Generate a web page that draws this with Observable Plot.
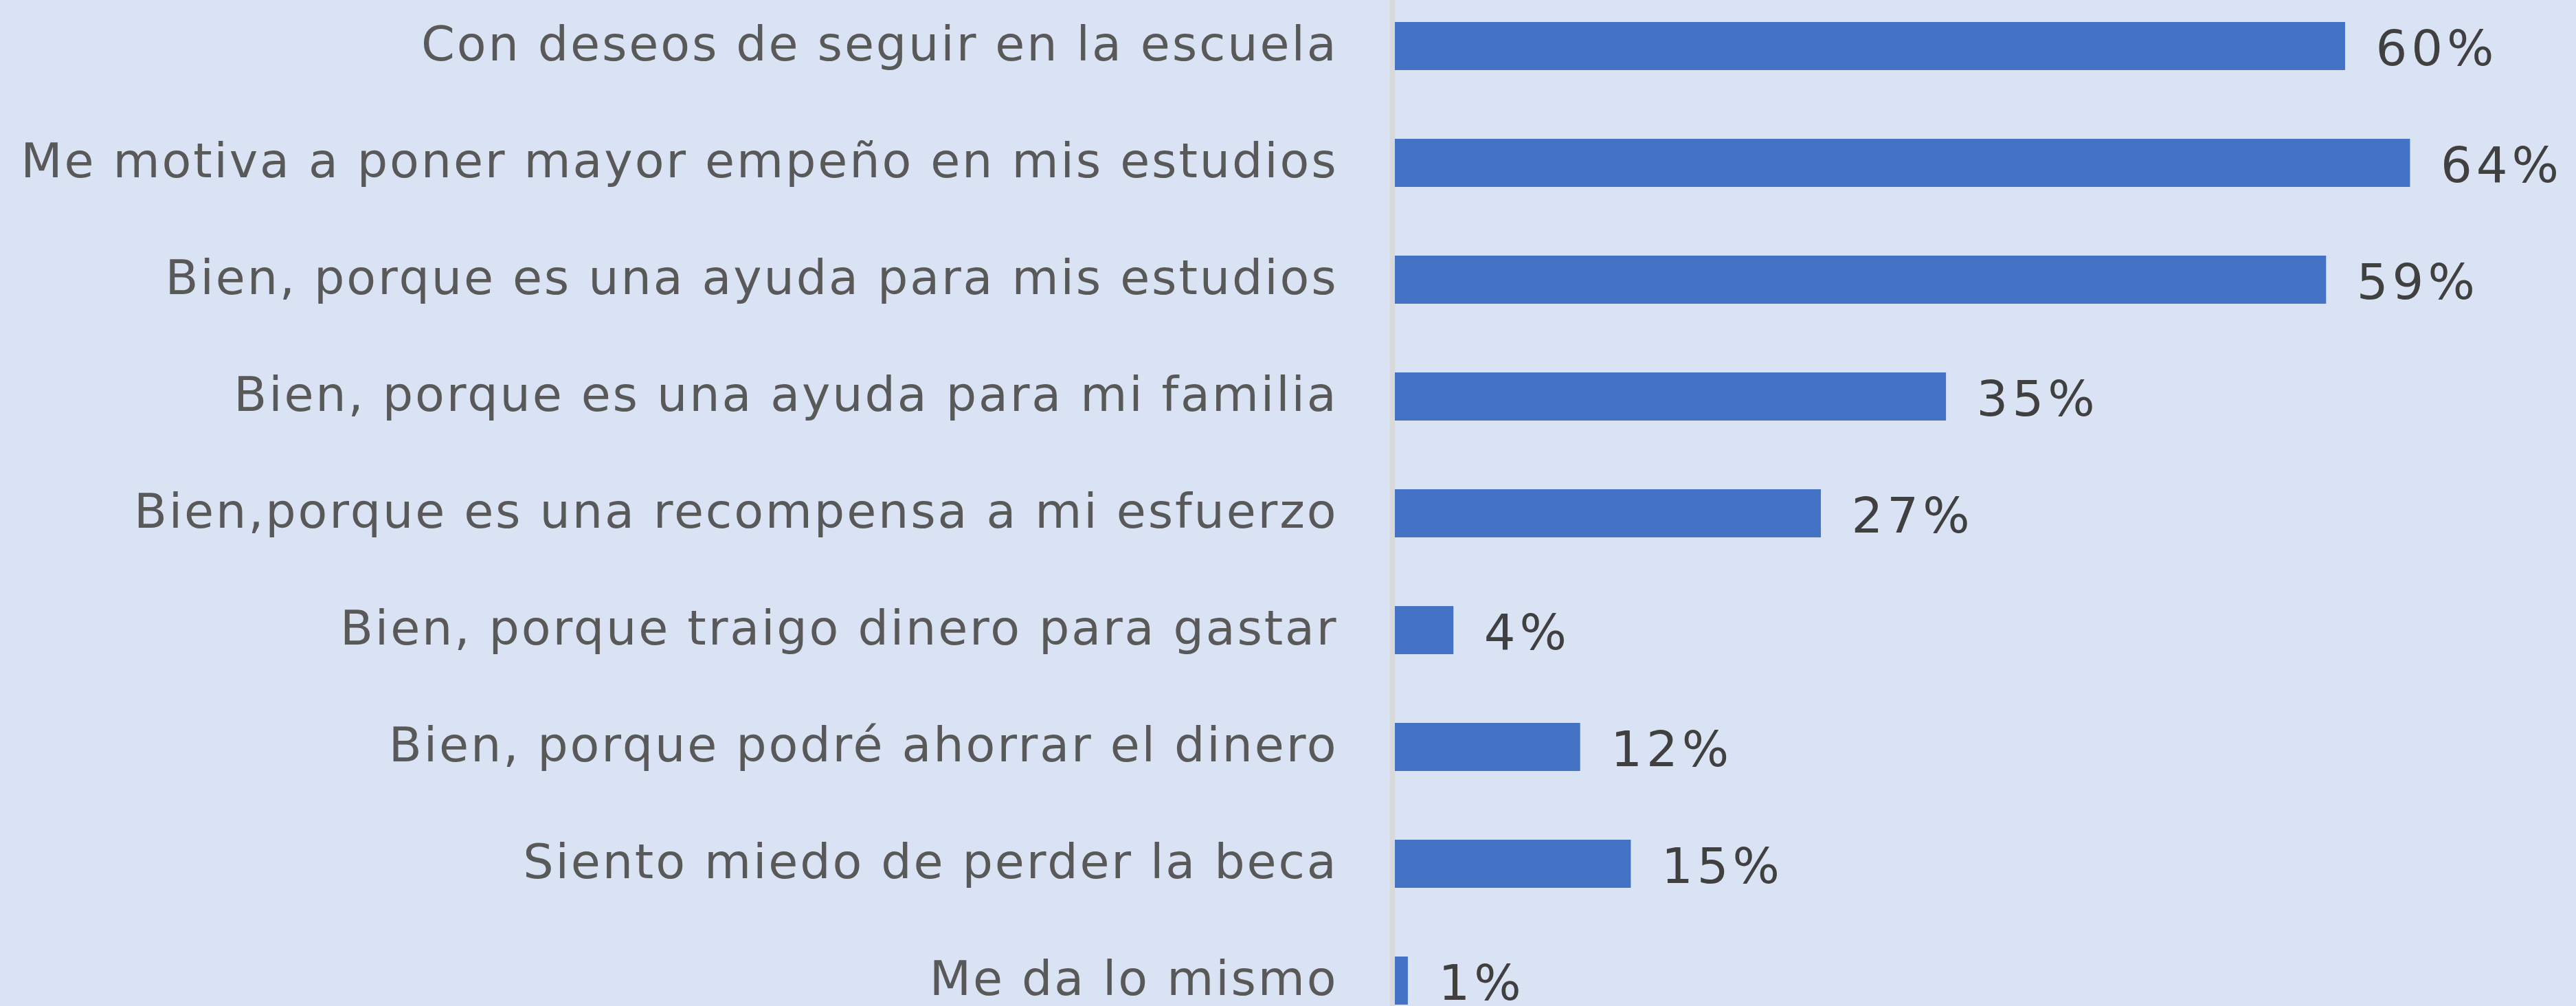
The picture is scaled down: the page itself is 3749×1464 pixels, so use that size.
<!DOCTYPE html>
<html>
<head>
<meta charset="utf-8">
<script src="https://cdn.jsdelivr.net/npm/d3@7"></script>
<script src="https://cdn.jsdelivr.net/npm/@observablehq/plot@0.6"></script>
<style>
html, body { margin: 0; padding: 0; background: #dae3f3; overflow: hidden; }
#chart g[aria-label="y-axis tick label"] text { letter-spacing: 2.85px; }
#chart g[aria-label="text"] text { letter-spacing: 6px; }
</style>
</head>
<body>
<div id="chart"></div>
<script>
const categories = [
  "Con deseos de seguir en la escuela",
  "Me motiva a poner mayor empeño en mis estudios",
  "Bien, porque es una ayuda para mis estudios",
  "Bien, porque es una ayuda para mi familia",
  "Bien,porque es una recompensa a mi esfuerzo",
  "Bien, porque traigo dinero para gastar",
  "Bien, porque podré ahorrar el dinero",
  "Siento miedo de perder la beca",
  "Me da lo mismo"
];
const values = [60.0, 64.1, 58.8, 34.8, 26.9, 3.7, 11.7, 14.9, 0.82];
const valueLabels = ["60%", "64%", "59%", "35%", "27%", "4%", "12%", "15%", "1%"];

const data = categories.map((c, i) => ({category: c, value: values[i], label: valueLabels[i]}));

const chart = Plot.plot({
  width: 3749,
  height: 1464,
  marginLeft: 2030,
  marginRight: 0,
  marginTop: 0,
  marginBottom: 0,
  style: {background: "#dae3f3", fontFamily: "'DejaVu Sans', sans-serif", overflow: "visible"},
  x: {domain: [0, 74.58], axis: null},
  y: {domain: categories, range: [29, 1464], paddingInner: 0.59, paddingOuter: 0, axis: null},
  marks: [
    Plot.ruleX([0], {stroke: "#d9d9d9", strokeWidth: 8, dx: -4}),
    Plot.barX(data, {x: "value", y: "category", fill: "#4472c4"}),
    Plot.text(data, {x: "value", y: "category", text: "label", textAnchor: "start", dx: 44, dy: 4, fontSize: 72, fill: "#404040"}),
    Plot.axisY({tickSize: 0, tickPadding: 83, dy: -2, fontSize: 70, fill: "#595959", label: null})
  ]
});
document.getElementById("chart").appendChild(chart);
</script>
</body>
</html>
